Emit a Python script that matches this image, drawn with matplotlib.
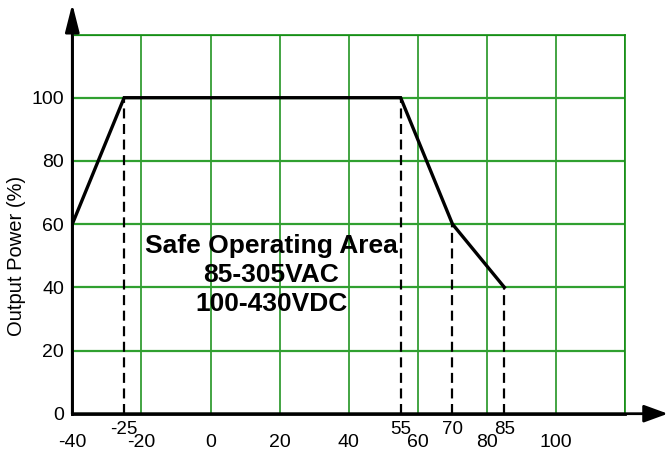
import matplotlib
matplotlib.use("Agg")
import matplotlib.pyplot as plt

# ---- data ----
temps = [-40, -25, 55, 70, 85]
power = [60, 100, 100, 60, 40]
marked_temps = [-25, 55, 70, 85]
marked_power = [100, 100, 60, 40]
marked_labels = ["-25", "55", "70", "85"]
x_ticks = [-40, -20, 0, 20, 40, 60, 80, 100, 120]
x_tick_labels = ["-40", "-20", "0", "20", "40", "60", "80", "100", ""]
y_ticks = [0, 20, 40, 60, 80, 100, 120]
y_tick_labels = ["0", "20", "40", "60", "80", "100", ""]
area_text = "Safe Operating Area\n85-305VAC\n100-430VDC"
y_label = "Output Power (%)"

plt.rcParams['font.family'] = ['Liberation Sans', 'DejaVu Sans']

fig = plt.figure(figsize=(6.68, 4.55), dpi=100)
ax = fig.add_axes([72.3/668, 41.3/455, 553/668, 379.2/455])
ax.set_xlim(-40, 120)
ax.set_ylim(0, 120)

# grid
ax.set_xticks(x_ticks, labels=x_tick_labels)
ax.set_yticks(y_ticks, labels=y_tick_labels)
ax.xaxis.grid(True, color='#108c10', lw=1.1)
ax.yaxis.grid(True, color='#30a030', lw=1.6)
ax.set_axisbelow(True)
ax.tick_params(axis='x', which='major', length=0, pad=14.5, labelsize=14)
ax.tick_params(axis='y', which='major', length=0, pad=6, labelsize=14)

ax.set_xticks(marked_temps, labels=marked_labels, minor=True)
ax.tick_params(axis='x', which='minor', length=0, pad=5.5, labelsize=13.5)

for s in ['top', 'right']:
    ax.spines[s].set_color('#108c10')
    ax.spines[s].set_linewidth(1.2)
ax.spines['left'].set_linewidth(2)
ax.spines['bottom'].set_linewidth(2)

# dashed drop lines
for t, p in zip(marked_temps, marked_power):
    ax.plot([t, t], [0, p], color='black', lw=1.6, ls=(0, (4.5, 2.5)), zorder=3)

# curve
ax.plot(temps, power, color='black', lw=2.4, solid_joinstyle='miter', zorder=4)

# text
ax.text(17.5, 44, area_text, ha='center', va='center', fontsize=19,
        fontweight='bold', linespacing=1.27, zorder=5)

ax.text(-0.1018, 50/120, y_label, transform=ax.transAxes, rotation=90,
        ha='center', va='center', fontsize=14.5)

# axis arrows
ax.annotate('', xy=(-40, 129.7), xytext=(-40, 0), annotation_clip=False,
            arrowprops=dict(arrowstyle='-|>,head_length=17,head_width=4.3',
                            mutation_scale=1, lw=2, color='black',
                            shrinkA=0, shrinkB=0))
ax.annotate('', xy=(132.3, 0), xytext=(-40, 0), annotation_clip=False,
            arrowprops=dict(arrowstyle='-|>,head_length=14.5,head_width=5.3',
                            mutation_scale=1, lw=2, color='black',
                            shrinkA=0, shrinkB=0))

fig.savefig('out.png', dpi=100)
